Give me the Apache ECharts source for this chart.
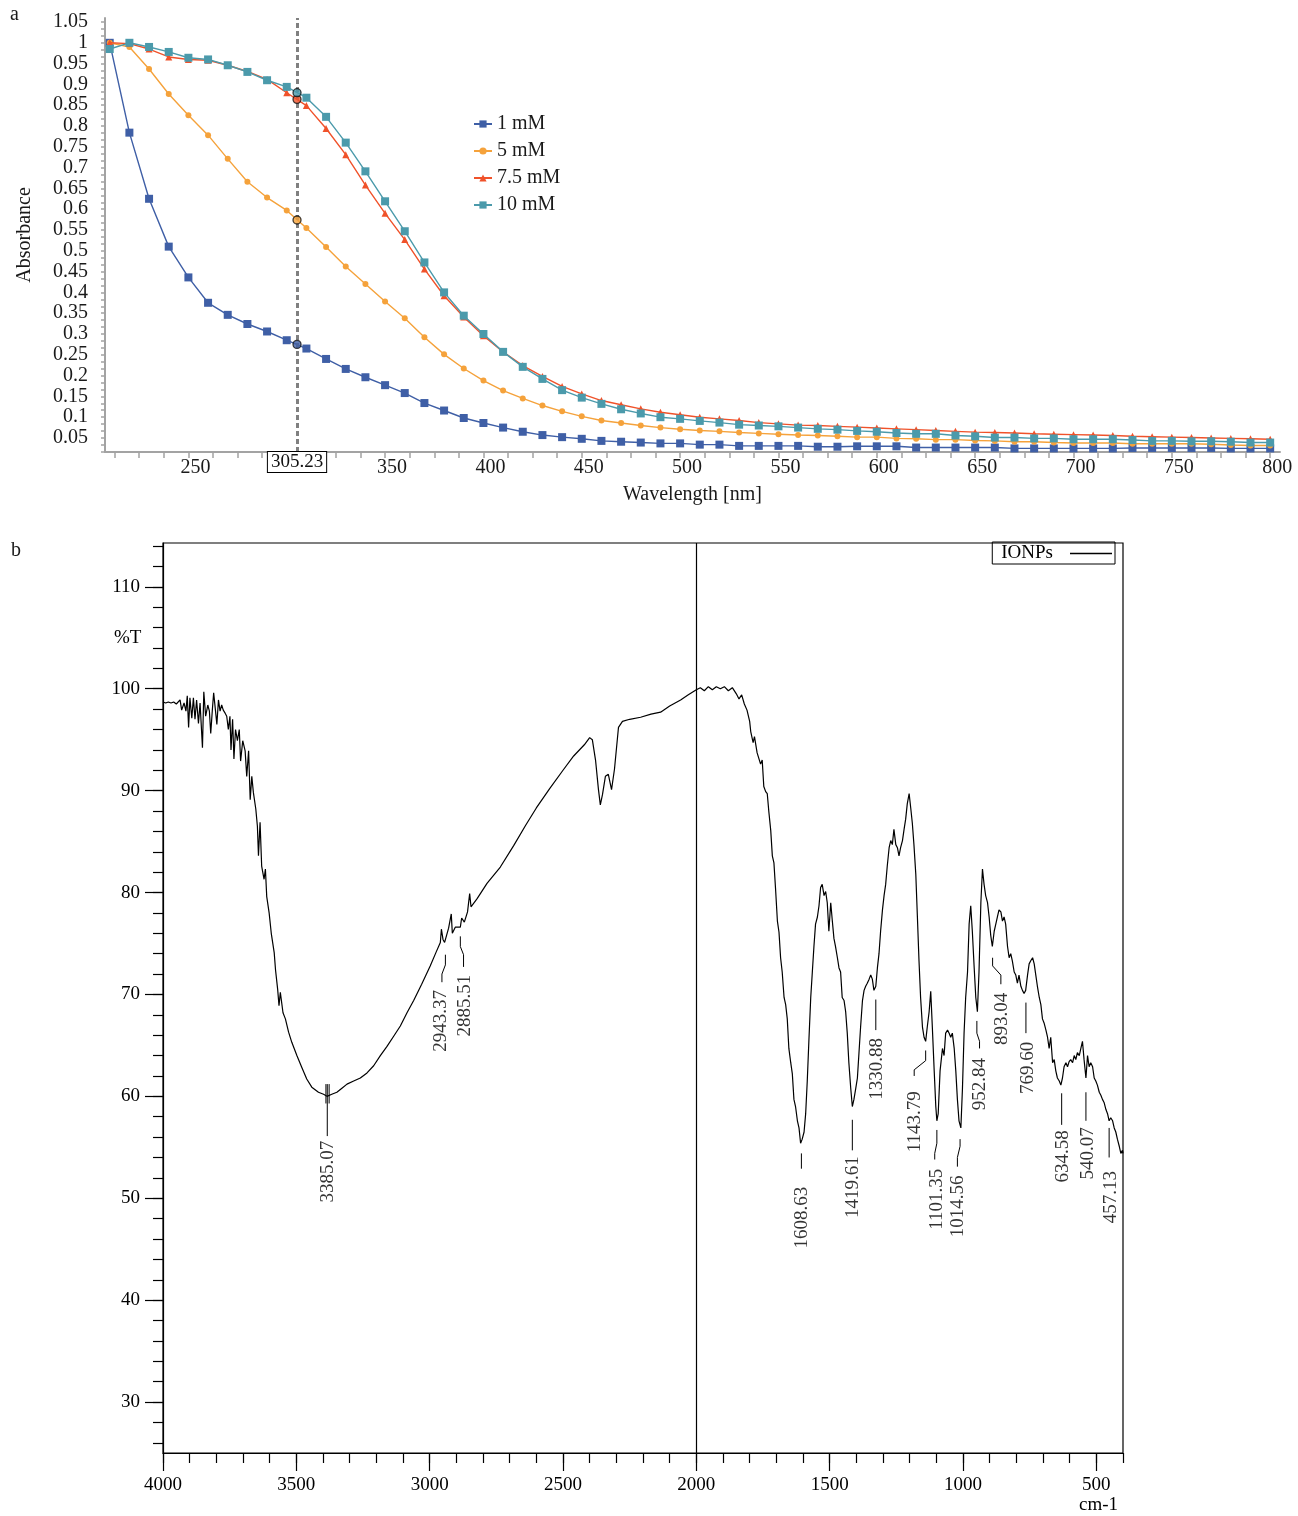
<!DOCTYPE html>
<html><head><meta charset="utf-8">
<script src="https://cdn.jsdelivr.net/npm/echarts@6/dist/echarts.min.js"></script>
<style>html,body{margin:0;padding:0;background:#fff}#c{width:1298px;height:1516px}</style>
</head><body><div id="c"></div>
<script>
// ---------- Panel a : UV-Vis ----------
const uvWavelengths = [210,220,230,240,250,260,270,280,290,300,310,320,330,340,350,360,370,380,390,400,410,420,430,440,450,460,470,480,490,500,510,520,530,540,550,560,570,580,590,600,610,620,630,640,650,660,670,680,690,700,710,720,730,740,750,760,770,780,790,800];
const abs1mM = [1.0,0.784,0.625,0.510,0.436,0.375,0.346,0.324,0.306,0.285,0.265,0.240,0.216,0.196,0.177,0.158,0.134,0.116,0.098,0.086,0.075,0.065,0.057,0.052,0.048,0.043,0.041,0.039,0.037,0.037,0.034,0.034,0.031,0.031,0.031,0.031,0.029,0.029,0.030,0.030,0.030,0.027,0.027,0.027,0.027,0.027,0.025,0.025,0.025,0.025,0.025,0.025,0.026,0.026,0.026,0.026,0.026,0.025,0.025,0.025];
const abs5mM = [1.0,0.990,0.937,0.877,0.826,0.778,0.721,0.666,0.628,0.597,0.555,0.509,0.462,0.420,0.378,0.338,0.292,0.251,0.217,0.188,0.164,0.145,0.128,0.114,0.102,0.092,0.086,0.080,0.075,0.071,0.068,0.066,0.063,0.061,0.059,0.057,0.056,0.054,0.052,0.052,0.049,0.048,0.046,0.046,0.044,0.043,0.041,0.041,0.039,0.038,0.038,0.038,0.036,0.036,0.036,0.036,0.035,0.033,0.032,0.032];
const abs75mM = [1.0,0.998,0.985,0.966,0.960,0.958,0.946,0.931,0.912,0.880,0.849,0.794,0.731,0.658,0.590,0.527,0.456,0.392,0.341,0.296,0.257,0.224,0.198,0.174,0.156,0.140,0.130,0.120,0.112,0.106,0.100,0.096,0.092,0.087,0.084,0.081,0.080,0.078,0.076,0.074,0.072,0.070,0.068,0.066,0.064,0.063,0.062,0.060,0.059,0.058,0.057,0.056,0.054,0.053,0.052,0.051,0.050,0.049,0.048,0.047];
const abs10mM = [0.985,1.0,0.990,0.978,0.964,0.960,0.946,0.930,0.910,0.894,0.868,0.822,0.760,0.691,0.619,0.547,0.472,0.400,0.344,0.300,0.257,0.221,0.192,0.165,0.147,0.132,0.119,0.109,0.100,0.096,0.091,0.087,0.082,0.080,0.078,0.075,0.072,0.070,0.067,0.065,0.062,0.060,0.060,0.056,0.054,0.051,0.051,0.049,0.049,0.047,0.047,0.047,0.045,0.043,0.043,0.042,0.042,0.041,0.039,0.039];
const uvSeriesNames = ['1 mM','5 mM','7.5 mM','10 mM'];
const cursorWavelength = 305.23;
const cursorValues = [0.275,0.574,0.864,0.880];
const uvXLabels = [250,350,400,450,500,550,600,650,700,750,800];

// ---------- Panel b : FTIR ----------
const ftirWavenumbers = [4000,3990,3980,3970,3960,3950,3943,3936,3930,3921,3914,3909,3904,3899,3892,3886,3880,3874,3867,3861,3852,3847,3840,3832,3826,3821,3815,3810,3803,3798,3792,3786,3780,3774,3767,3761,3755,3749,3745,3739,3734,3728,3721,3714,3709,3701,3692,3686,3679,3673,3667,3661,3652,3646,3642,3636,3630,3621,3616,3611,3602,3594,3583,3578,3570,3565,3560,3550,3541,3529,3517,3498,3479,3461,3442,3417,3398,3385,3367,3348,3329,3310,3285,3260,3235,3210,3185,3160,3135,3110,3085,3060,3030,2998,2975,2960,2956,2950,2944,2929,2919,2915,2904,2885,2880,2870,2858,2850,2845,2822,2785,2735,2685,2640,2600,2550,2500,2460,2420,2400,2390,2378,2367,2360,2352,2341,2330,2318,2307,2292,2277,2250,2209,2170,2134,2100,2059,2030,2000,1985,1970,1955,1940,1925,1910,1895,1880,1865,1850,1840,1830,1820,1810,1800,
1796,1787,1782,1772,1765,1759,1753,1747,1740,1734,1728,1721,1715,1709,1703,1696,1690,1684,1678,1671,1665,1659,1653,1646,1640,1634,1628,1621,1615,1609,1603,1596,1590,1584,1578,1571,1565,1559,1553,1546,1540,1534,1528,1521,1515,1509,1503,1496,1490,1484,1478,1471,1465,1459,1453,1446,1440,1434,1428,1421,1415,1409,1402,1396,1390,1384,1377,1371,1365,1359,1352,1346,1340,1334,1327,1321,1315,1309,1302,1296,1290,1284,1277,1271,1265,1259,1252,1246,1240,1234,1227,1221,1215,1209,1202,1196,1190,1184,1177,1171,1165,1159,1152,1146,1140,1134,1127,1121,1115,1108,1102,1098,1093,1086,1077,1071,1065,1058,1052,1046,1040,1033,1027,1021,1015,1008,1002,996,990,983,977,971,965,958,952,946,940,933,927,921,915,908,902,896,890,883,877,871,865,858,852,846,840,833,827,821,815,808,802,796,790,783,777,771,765,758,752,746,739,733,727,721,714,708,702,696,689,683,677,671,664,658,652,646,639,633,627,621,614,608,602,596,589,583,577,571,564,558,552,546,539,533,527,521,514,508,502,496,489,483,477,471,464,458,452,446,439,433,427,421,414,408,402,400];
const ftirTransmittance = [98.7,98.6,98.7,98.6,98.7,98.5,98.5,98.9,97.9,98.6,97.8,99.3,96.2,99.1,97.1,99.1,97.0,98.9,96.6,98.6,94.2,99.7,97.3,98.4,97.8,95.6,97.9,99.6,97.8,96.5,98.9,97.8,98.4,97.9,97.6,97.3,96.0,97.3,94.0,97.0,93.1,96.0,94.9,96.0,92.9,94.9,93.9,91.4,93.9,89.1,91.4,89.8,88.2,86.5,83.6,86.9,82.6,81.3,82.3,79.6,78.0,76.0,74.1,72.4,70.5,68.9,70.2,68.2,67.6,66.3,65.3,64.0,62.8,61.7,60.9,60.4,60.2,60.0,60.2,60.4,60.8,61.2,61.5,61.8,62.3,63.0,64.0,64.9,65.9,66.9,68.2,69.4,71.0,72.8,74.2,75.1,76.4,75.4,75.1,76.5,77.9,76.0,76.6,76.6,77.5,77.1,78.1,79.9,78.6,79.4,80.9,82.5,84.6,86.6,88.3,90.2,92.0,93.4,94.5,95.2,95.0,93.0,90.1,88.6,89.6,91.4,91.6,90.1,92.1,96.2,96.8,97.0,97.2,97.5,97.7,98.3,98.9,99.4,99.9,100.1,99.8,100.2,99.9,100.2,100.0,100.2,99.8,100.1,99.5,99.0,99.4,98.5,97.9,96.8,
95.8,94.7,95.3,93.7,93.8,92.6,93.0,90.4,89.9,89.7,87.9,86.1,83.6,82.9,80.4,77.2,76.1,73.6,72.2,69.7,69.0,67.6,64.7,63.3,62.2,59.7,59.0,57.6,56.9,55.4,55.8,56.5,58.3,61.5,65.4,69.7,72.2,74.7,76.9,77.6,78.7,80.5,80.8,79.7,80.1,79.0,76.2,79.0,77.2,75.5,74.7,73.6,72.6,72.2,69.7,69.4,68.3,66.2,63.3,60.8,59.0,59.7,60.8,61.8,64.3,66.8,69.4,70.4,70.8,71.1,71.5,71.9,71.5,70.4,70.8,72.6,74.0,76.2,78.3,79.7,80.8,82.6,84.4,85.1,84.7,86.2,84.7,84.4,83.6,84.4,85.1,86.2,87.2,88.7,89.7,88.3,86.8,84.7,81.8,77.6,73.3,69.7,66.8,65.8,65.4,66.8,68.3,70.3,66.8,62.5,59.0,57.6,58.3,62.5,64.7,64.0,66.2,66.5,66.2,65.8,66.2,64.7,62.5,59.7,57.6,56.9,60.8,66.2,69.7,72.2,76.9,78.7,76.2,72.6,69.7,68.3,72.2,79.0,82.3,80.8,79.7,79.0,77.6,75.8,74.7,76.2,76.9,77.6,78.3,78.1,77.2,77.6,76.9,74.7,73.6,74.0,73.3,72.2,71.9,71.1,71.9,70.8,70.4,70.1,70.4,71.9,73.0,73.3,73.6,73.0,71.9,70.8,69.7,69.0,67.6,67.2,66.5,65.8,64.7,65.8,63.3,63.6,62.5,61.8,61.5,61.1,61.8,62.9,63.3,62.9,63.4,63.6,63.3,64.0,63.6,64.3,64.0,64.7,65.4,63.6,61.8,64.0,62.9,63.3,62.9,61.8,61.5,61.1,60.4,60.1,59.7,59.4,58.7,58.3,57.6,57.9,57.6,56.9,56.5,55.8,55.1,54.4,54.7,54.4];
const peakLabels = ['3385.07','2943.37','2885.51','1608.63','1419.61','1330.88','1143.79','1101.35','1014.56','952.84','893.04','769.60','634.58','540.07','457.13'];
// annotation layout in data units: leader-line path and label centre
const peakLeaders = [
  [[3384,61.2],[3384,56.1]],
  [[2941,73.9],[2941,72.9],[2954,72.0],[2954,71.2]],
  [[2885,75.7],[2885,74.7],[2873,73.9],[2873,72.7]],
  [[1606,54.4],[1606,52.9]],
  [[1415,57.7],[1415,54.7]],
  [[1327,69.5],[1327,66.5]],
  [[1140,64.5],[1140,63.5],[1183,62.6],[1183,62.0]],
  [[1098,56.7],[1098,55.4],[1106,54.4],[1106,53.8]],
  [[1011,55.8],[1011,55.1],[1021,54.0],[1021,53.1]],
  [[948,67.4],[948,66.2],[938,65.4],[938,64.7]],
  [[889,73.6],[889,72.8],[858,71.9],[858,71.0]],
  [[764,69.2],[764,66.2]],
  [[630,60.3],[630,57.2]],
  [[539,60.4],[539,57.6]],
  [[452,56.9],[452,54.0]],
  [[3389,61.2],[3389,59.3]],
  [[3377,61.2],[3377,59.3]]
];
const peakLabelPos = [[3382,52.6],[2956,67.4],[2866,68.9],[1603,48.1],[1411,51.1],[1321,62.7],[1180,57.5],[1099,49.9],[1018,49.2],[936,61.2],[852,67.6],[758,62.8],[626,54.1],[533,54.4],[445,50.1]];

// ---------- build ----------
const FONT = 'Liberation Serif';
const zip = (xs, ys) => xs.map((x, i) => [x, ys[i]]);
const uvColors = ['#3f5fa6', '#f5a23b', '#f0522a', '#4b9aab'];
const uvSymbols = ['rect', 'circle', 'triangle', 'rect'];
const uvSymSizes = [8, 6, 7, 8];
const uvData = [abs1mM, abs5mM, abs75mM, abs10mM];

const uvYTicks = []; for (let k = 1; k <= 63; k++) { const v = k / 60; if (v > 0.0163 && v < 1.0596) uvYTicks.push(v); }
const uvYLabels = []; for (let k = 1; k <= 21; k++) uvYLabels.push(+(k * 0.05).toFixed(2));
const uvXTicks = []; for (let v = 212.5; v <= 800; v += 12.5) uvXTicks.push(v);
const irXMinor = []; for (let v = 400; v <= 4000; v += 100) irXMinor.push(v);
const irXMajor = []; for (let v = 500; v <= 4000; v += 500) irXMajor.push(v);
const irYMinor = []; for (let v = 26; v <= 114; v += 2) irYMinor.push(v);
const irYMajor = []; for (let v = 30; v <= 110; v += 10) irYMajor.push(v);

const grey = '#a3a3a3';
const series = [];
uvSeriesNames.forEach((n, i) => {
  const s = {
    name: n, type: 'line', xAxisIndex: 0, yAxisIndex: 0,
    data: zip(uvWavelengths, uvData[i]),
    symbol: uvSymbols[i], symbolSize: uvSymSizes[i], showSymbol: true,
    itemStyle: { color: uvColors[i] }, lineStyle: { width: 1.4, color: uvColors[i] },
    z: 3 + i
  };
  if (i === 0) {
    s.markLine = {
      silent: true, symbol: 'none', animation: false,
      lineStyle: { color: '#808080', type: [5, 3], width: 3 },
      label: { show: true, position: 'start', formatter: String(cursorWavelength), distance: 0,
        color: '#111', fontFamily: FONT, fontSize: 19, backgroundColor: '#fff', borderColor: '#000', borderWidth: 1, padding: [1, 3, 0, 3] },
      data: [{ xAxis: cursorWavelength }]
    };
  }
  series.push(s);
});
series.push({
  type: 'scatter', xAxisIndex: 0, yAxisIndex: 0, symbol: 'circle', symbolSize: 8, z: 10,
  data: cursorValues.map((v, i) => ({ value: [cursorWavelength, v], itemStyle: { color: uvColors[i], borderColor: '#111', borderWidth: 1.3 } }))
});
series.push({
  name: 'IONPs', type: 'line', xAxisIndex: 1, yAxisIndex: 1, symbol: 'none',
  data: zip(ftirWavenumbers, ftirTransmittance),
  lineStyle: { color: '#000', width: 1.2 }, itemStyle: { color: '#000' },
  markLine: { silent: true, symbol: 'none', label: { show: false }, lineStyle: { color: '#000', type: 'solid', width: 1.2 }, data: [{ xAxis: 2000 }] }
});
series.push({
  type: 'lines', coordinateSystem: 'cartesian2d', xAxisIndex: 1, yAxisIndex: 1, polyline: true, silent: true,
  lineStyle: { color: '#000', width: 1, opacity: 1 },
  data: peakLeaders.map(c => ({ coords: c }))
});
series.push({
  type: 'scatter', xAxisIndex: 1, yAxisIndex: 1, symbolSize: 1, silent: true,
  itemStyle: { color: 'rgba(0,0,0,0)' },
  label: { show: true, position: 'inside', rotate: 90, formatter: '{b}', color: '#000', fontFamily: FONT, fontSize: 19 },
  data: peakLabelPos.map((p, i) => ({ name: peakLabels[i], value: p }))
});

const txt = { color: '#1a1a1a', fontFamily: FONT, fontSize: 20 };
const plain = v => String(v);
const option = {
  animation: false,
  backgroundColor: '#fff',
  textStyle: { fontFamily: FONT },
  grid: [
    { left: 105, top: 18, width: 1175, height: 434 },
    { left: 163, top: 543, width: 960, height: 910, show: true, borderColor: '#000', borderWidth: 1.2, backgroundColor: 'transparent' }
  ],
  legend: [
    { data: uvSeriesNames, orient: 'vertical', left: 468, top: 109, itemWidth: 18, itemHeight: 9, itemGap: 7,
      textStyle: Object.assign({}, txt, { lineHeight: 20, padding: [0, 0, 0, 0] }) },
    { data: [{ name: 'IONPs', icon: 'rect' }], right: 183, top: 542, align: 'right', itemWidth: 42, itemHeight: 1.3,
      itemStyle: { color: '#000', borderWidth: 0 }, borderColor: '#000', borderWidth: 1, borderRadius: 0,
      padding: [2, 3, 1, 9], textStyle: { color: '#000', fontFamily: FONT, fontSize: 19, lineHeight: 18, padding: [0, 12, 0, 0] } }
  ],
  xAxis: [
    { gridIndex: 0, type: 'value', min: 207.6, max: 805, position: 'bottom',
      axisLine: { show: true, onZero: false, lineStyle: { color: grey, width: 2 } },
      axisTick: { show: true, customValues: uvXTicks, length: 6, lineStyle: { color: grey, width: 1.5 } },
      axisLabel: { customValues: uvXLabels, margin: 6, padding: [0, 0, 0, 14], color: '#1a1a1a', fontFamily: FONT, fontSize: 20, formatter: plain },
      splitLine: { show: false },
      name: 'Wavelength [nm]', nameLocation: 'middle', nameGap: 33, nameTextStyle: txt },
    { gridIndex: 1, type: 'value', min: 400, max: 4000, inverse: true, position: 'bottom', offset: 0,
      axisLine: { show: true, onZero: false, lineStyle: { color: '#000', width: 1.2 } },
      axisTick: { show: true, customValues: irXMinor, length: 10, lineStyle: { color: '#000', width: 1.2 } },
      axisLabel: { show: false }, splitLine: { show: false } },
    { gridIndex: 1, type: 'value', min: 400, max: 4000, inverse: true, position: 'bottom', offset: 0,
      axisLine: { show: false, onZero: false },
      axisTick: { show: true, customValues: irXMajor, length: 18, lineStyle: { color: '#000', width: 1.2 } },
      axisLabel: { customValues: irXMajor, margin: 23, color: '#000', fontFamily: FONT, fontSize: 19, formatter: plain },
      splitLine: { show: false } }
  ],
  yAxis: [
    { gridIndex: 0, type: 'value', min: 0.0163, max: 1.0596, position: 'left',
      axisLine: { show: true, onZero: false, lineStyle: { color: grey, width: 2 } },
      axisTick: { show: true, customValues: uvYTicks, length: 4, lineStyle: { color: grey, width: 1.5 } },
      axisLabel: { customValues: uvYLabels, margin: 17, color: '#1a1a1a', fontFamily: FONT, fontSize: 20,
        formatter: v => String(+(+v).toFixed(2)) },
      splitLine: { show: false },
      name: 'Absorbance', nameLocation: 'middle', nameGap: 70, nameTextStyle: txt },
    { gridIndex: 1, type: 'value', min: 25, max: 114.3, position: 'left', offset: 0,
      axisLine: { show: true, onZero: false, lineStyle: { color: '#000', width: 1.2 } },
      axisTick: { show: true, customValues: irYMinor, length: 10, lineStyle: { color: '#000', width: 1.2 } },
      axisLabel: { show: false }, splitLine: { show: false } },
    { gridIndex: 1, type: 'value', min: 25, max: 114.3, position: 'left', offset: 0,
      axisLine: { show: false, onZero: false },
      axisTick: { show: true, customValues: irYMajor, length: 18, lineStyle: { color: '#000', width: 1.2 } },
      axisLabel: { customValues: irYMajor, margin: 23, color: '#000', fontFamily: FONT, fontSize: 19, formatter: plain },
      splitLine: { show: false } }
  ],
  graphic: [
    { type: 'text', left: 10, top: 5, style: { text: 'a', fill: '#1a1a1a', font: '20px "Liberation Serif"' } },
    { type: 'text', left: 11, top: 541, style: { text: 'b', fill: '#1a1a1a', font: '20px "Liberation Serif"' } },
    { type: 'text', left: 114, top: 629, style: { text: '%T', fill: '#000', font: '19px "Liberation Serif"' } },
    { type: 'text', left: 1079, top: 1496, style: { text: 'cm-1', fill: '#000', font: '19px "Liberation Serif"' } }
  ],
  series: series
};
const chart = echarts.init(document.getElementById('c'), null, { renderer: 'canvas' });
chart.setOption(option);
</script>
</body></html>
